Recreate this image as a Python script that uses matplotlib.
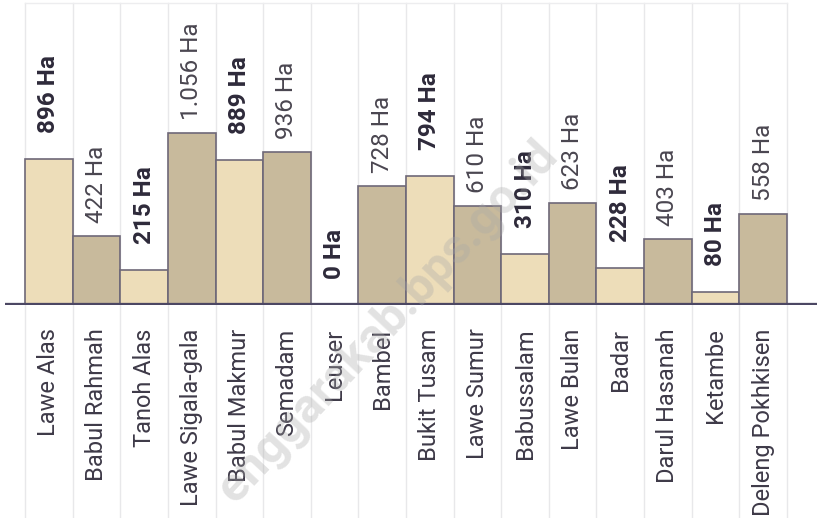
import matplotlib.pyplot as plt
import matplotlib.transforms as mtransforms

# kecamatan names and area (Ha)
kecamatan = ["Lawe Alas", "Babul Rahmah", "Tanoh Alas", "Lawe Sigala-gala",
             "Babul Makmur", "Semadam", "Leuser", "Bambel", "Bukit Tusam",
             "Lawe Sumur", "Babussalam", "Lawe Bulan", "Badar",
             "Darul Hasanah", "Ketambe", "Deleng Pokhkisen"]
luas = [896, 422, 215, 1056, 889, 936, 0, 728, 794, 610, 310, 623, 228,
        403, 80, 558]
label_teks = ["896 Ha", "422 Ha", "215 Ha", "1.056 Ha", "889 Ha", "936 Ha",
              "0 Ha", "728 Ha", "794 Ha", "610 Ha", "310 Ha", "623 Ha",
              "228 Ha", "403 Ha", "80 Ha", "558 Ha"]

plt.rcParams['font.family'] = ['Roboto', 'DejaVu Sans']

light = "#EDDDB9"
dark = "#C8BA9C"
edge = "#6E6878"
base_col = "#4C4763"

fig = plt.figure(figsize=(8.17, 5.18), dpi=100)
ax = fig.add_axes([5 / 817, 1 - 305 / 518, 812 / 817, 302 / 518])

n = len(kecamatan)
x = list(range(n))
colors = [light if i % 2 == 0 else dark for i in x]
ax.bar(x, luas, width=1.0, color=colors, edgecolor=edge, linewidth=1.2, zorder=3)

ax.set_xlim(-0.92, 16.13)
ax.set_ylim(0, 1853)

# column separators (extend down into label area)
trans = mtransforms.blended_transform_factory(ax.transData, ax.transAxes)
for i in range(n + 1):
    ax.plot([i - 0.5, i - 0.5], [-0.71, 1.0], color="#E8E8EA", lw=1.0,
            transform=trans, clip_on=False, zorder=1)
ax.plot([-0.5, n - 0.5], [1.0, 1.0], color="#EDEDEF", lw=1.0,
        transform=trans, clip_on=False, zorder=1)

# value labels
for i in x:
    bold = (i % 2 == 0)
    off = 26 if bold else 13
    ax.annotate(label_teks[i], (i, luas[i]), xytext=(0, off * 0.72),
                textcoords="offset points", rotation=90, ha="center",
                va="bottom", fontsize=17.5,
                fontweight="bold" if bold else "normal",
                color="#2E2A3A" if bold else "#4A4650", zorder=4)

# baseline
ax.axhline(0, color=base_col, lw=3.8, zorder=5, xmin=0, xmax=1)

ax.set_xticks(x)
ax.set_xticklabels(kecamatan, rotation=90, fontsize=17, color="#3E3A48")
ax.tick_params(axis="x", length=0, pad=17)
ax.set_yticks([])
for s in ax.spines.values():
    s.set_visible(False)

# watermark
fig.text(550 / 817, 1 - 148 / 518, "enggarakab.bps.go.id", rotation=47,
         rotation_mode="anchor", ha="right", va="center", fontsize=35,
         fontweight="bold", color="#A8A8A8", alpha=0.33, zorder=10)

fig.savefig("out.png", dpi=100)
